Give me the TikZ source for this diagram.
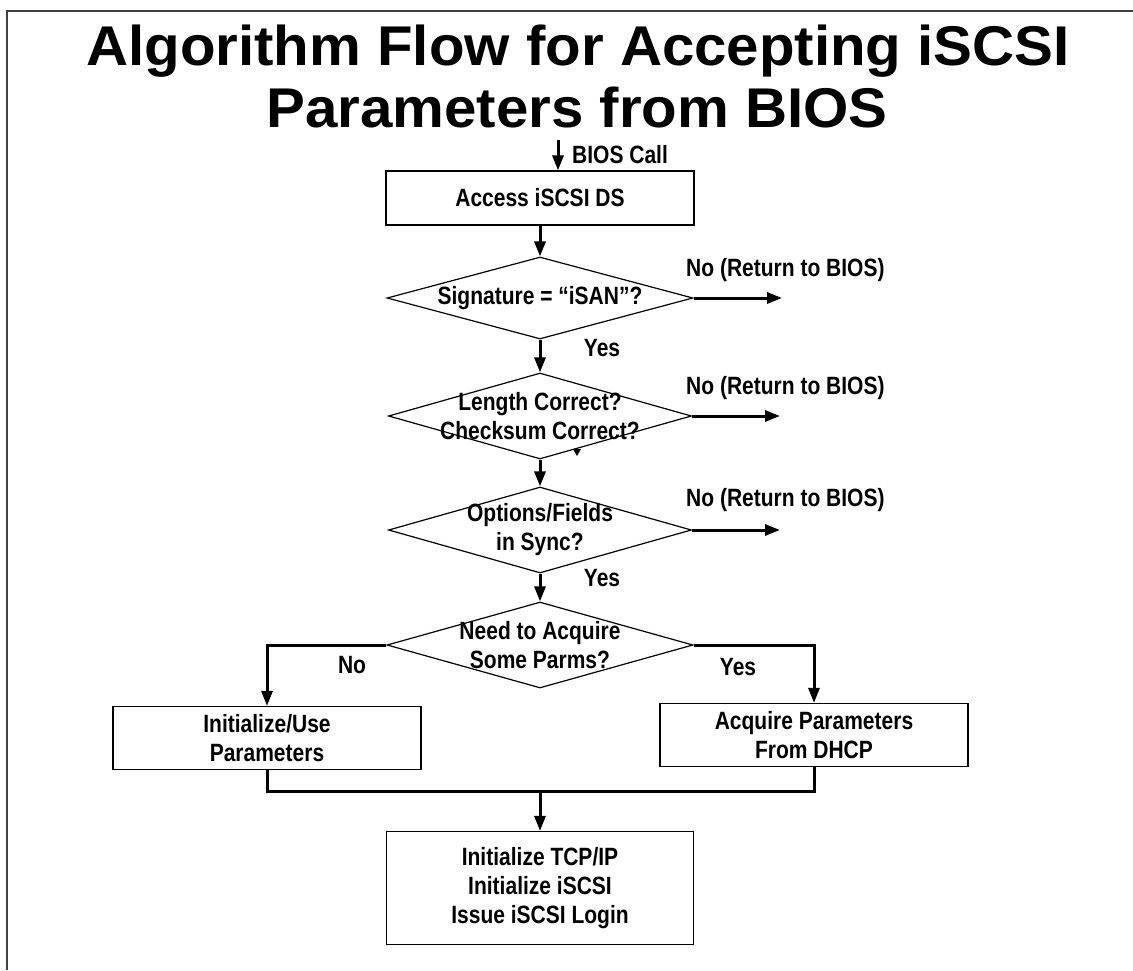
\documentclass[tikz,border=0pt]{standalone}
\usepackage{fontspec}
\setmainfont{Liberation Sans}
\newfontfamily\bodyfont{Liberation Sans}[FakeStretch=0.84]
\newfontfamily\headfont{Liberation Sans}[FakeStretch=1.04]
\usetikzlibrary{shapes.geometric,arrows.meta}

\tikzset{
  txt/.style={font=\bodyfont\bfseries\fontsize{25}{29}\selectfont, align=center, inner sep=0pt},
  head/.style={font=\headfont\bfseries\fontsize{56}{62}\selectfont, inner sep=0pt, anchor=base},
  box/.style={draw, line width=1.2pt, inner sep=0pt, txt},
  dec/.style={draw, diamond, line width=1.2pt, inner sep=0pt},
  flow/.style={line width=3pt, -{Triangle[length=15pt,width=11pt]}},
  link/.style={line width=3pt},
}

\begin{document}
\begin{tikzpicture}[x=1pt,y=-1pt]
\useasboundingbox (0,0) rectangle (1133,970);

% frame
\draw[line width=2pt, black!75] (7,970) -- (7,11) -- (1133,11);

% title
\node[head] (title1) at (578,65) {Algorithm Flow for Accepting iSCSI};
\node[head] (title2) at (577,127) {Parameters from BIOS};

% entry
\node[box, minimum width=308pt, minimum height=54pt] (access) at (540,198) {Access iSCSI DS};
\coordinate (call) at (558,140);
\draw[flow] (call) -- (call |- access.north);
\node[txt, anchor=west] (calltxt) at (572,155) {BIOS Call};

% checks
\node[dec, minimum width=306pt, minimum height=82pt,
      label={[txt]center:Signature = “iSAN”?}] (sig) at (540,298) {};
\node[dec, minimum width=303pt, minimum height=86pt,
      label={[txt]center:Length Correct?\\Checksum Correct?}] (len) at (540,416) {};
\node[dec, minimum width=303pt, minimum height=86pt,
      label={[txt]center:Options/Fields\\in Sync?}] (opt) at (540,530) {};
\node[dec, minimum width=306pt, minimum height=86pt,
      label={[txt]center:Need to Acquire\\Some Parms?}] (need) at (540,645) {};

\draw[flow] (access) -- (sig);
\draw[flow] (sig) -- (len);
\draw[flow] (len) -- (opt);
\draw[flow] (opt) -- (need);

\node[txt] (yes1) at (602,348) {Yes};
\node[txt] (yes3) at (602,578) {Yes};

% early exits
\coordinate (r1) at (782,298);
\coordinate (r2) at (780,416);
\coordinate (r3) at (780,530);
\draw[flow] (sig.east) -- (r1);
\draw[flow] (len.east) -- (r2);
\draw[flow] (opt.east) -- (r3);
\node[txt, anchor=west] (no1) at (686,270) {No (Return to BIOS)};
\node[txt, anchor=west] (no2) at (686,388) {No (Return to BIOS)};
\node[txt, anchor=west] (no3) at (686,500) {No (Return to BIOS)};

% stray tip on the second check
\fill (573,449) -- (581,449) -- (577,456) -- cycle;

% parameter branches
\node[box, minimum width=308pt, minimum height=63pt] (init) at (267,738) {Initialize/Use\\Parameters};
\node[box, minimum width=308pt, minimum height=63pt] (acq) at (814,735) {Acquire Parameters\\From DHCP};
\draw[flow] (need.west) -| (init.north);
\draw[flow] (need.east) -| (acq.north);
\node[txt] (nolbl) at (352,665) {No};
\node[txt] (yeslbl) at (738,667) {Yes};

% merge and start
\node[box, minimum width=307pt, minimum height=113pt] (start) at (540,888)
  {Initialize TCP/IP\\Initialize iSCSI\\Issue iSCSI Login};
\coordinate (join) at (540,791);
\draw[link] (init.south) |- (join);
\draw[link] (acq.south) |- (join);
\draw[flow] (join) -- (start.north);
\end{tikzpicture}
\end{document}
